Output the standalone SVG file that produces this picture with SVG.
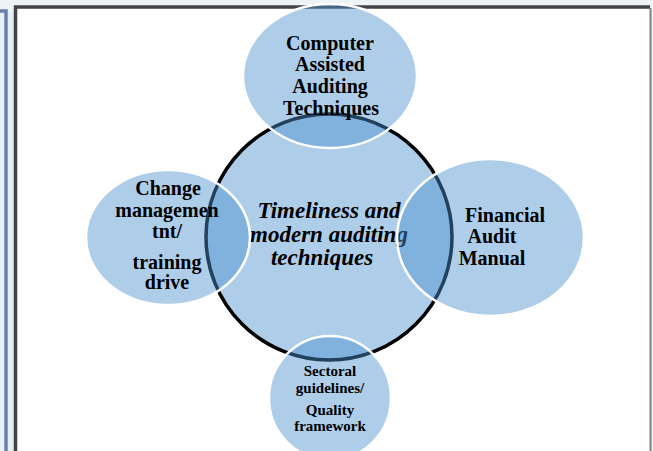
<svg xmlns="http://www.w3.org/2000/svg" width="653" height="451" viewBox="0 0 653 451">
<style>
.outer{fill:#4b90ce;fill-opacity:0.45;stroke:#ffffff;stroke-width:2.5}
.lbl{font-family:"Liberation Serif","Times New Roman",serif;font-weight:bold;fill:#000;text-anchor:middle}
.ctr{font-family:"Liberation Serif","Times New Roman",serif;font-weight:bold;font-style:italic;fill:#000;text-anchor:middle;font-size:23px}
</style>
<rect x="0" y="0" width="653" height="451" fill="#eef3f6"/>
<rect x="0" y="11" width="8" height="440" fill="#e8f0f7"/>
<rect x="8" y="12" width="7" height="439" fill="#e3eef6"/>
<path d="M0 11 H6 V451" fill="none" stroke="#6b80ad" stroke-width="3.5"/>
<rect x="16" y="8" width="634" height="443" fill="#ffffff"/>
<path d="M15.5 451 V7 H650" fill="none" stroke="#444444" stroke-width="3.5"/>
<line x1="650.5" y1="8" x2="650.5" y2="451" stroke="#7f7f7f" stroke-width="2"/>

<g id="center">
<circle cx="329" cy="237" r="123" fill="#aecde9" stroke="#000" stroke-width="3.5"/>
<text class="ctr" x="329" y="218">Timeliness and</text>
<text class="ctr" x="329" y="241.5">modern auditing</text>
<text class="ctr" x="322" y="265">techniques</text>
</g>

<g id="caat">
<ellipse class="outer" cx="330" cy="76" rx="87" ry="72"/>
<text class="lbl" font-size="20" x="330" y="49.5">Computer</text>
<text class="lbl" font-size="20" x="330" y="71">Assisted</text>
<text class="lbl" font-size="20" x="330" y="92.5">Auditing</text>
<text class="lbl" font-size="20" x="331" y="115">Techniques</text>
</g>

<g id="change">
<ellipse class="outer" cx="168" cy="237.5" rx="82" ry="67.5"/>
<text class="lbl" font-size="20" x="168" y="195">Change</text>
<text class="lbl" font-size="20" x="167" y="216.5">managemen</text>
<text class="lbl" font-size="20" x="167" y="238">tnt/</text>
<text class="lbl" font-size="20" x="167" y="269">training</text>
<text class="lbl" font-size="20" x="167" y="289">drive</text>
</g>

<g id="fam">
<ellipse class="outer" cx="490.5" cy="237.5" rx="93.5" ry="78.5"/>
<text class="lbl" font-size="20" x="505" y="221.5">Financial</text>
<text class="lbl" font-size="20" x="492" y="243">Audit</text>
<text class="lbl" font-size="20" x="492" y="265">Manual</text>
</g>

<g id="sectoral">
<ellipse class="outer" cx="330" cy="398" rx="61" ry="62"/>
<text class="lbl" font-size="15" x="330" y="376">Sectoral</text>
<text class="lbl" font-size="15" x="330" y="392.5">guidelines/</text>
<text class="lbl" font-size="15" x="330" y="415">Quality</text>
<text class="lbl" font-size="15" x="330" y="431">framework</text>
</g>
<g id="connectors"></g>
</svg>
